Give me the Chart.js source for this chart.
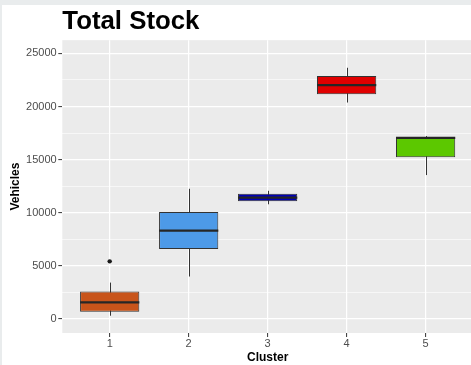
<!DOCTYPE html>
<html lang="en">
<head>
    <meta charset="UTF-8">
    <title>Total Stock</title>
    <script src="https://cdn.jsdelivr.net/npm/chart.js"></script>
    <style>
        body {
            margin: 0;
            overflow: hidden;
            background-color: #e9eced;
        }

        #boxChart {
            position: absolute;
            left: 2px;
            top: 5px;
            background-color: #ffffff;
        }
    </style>
</head>
<body>

    <canvas id="boxChart" width="475" height="360"></canvas>

    <script>
        // Box plot stats per cluster
        var clusters = [1, 2, 3, 4, 5];
        var lowWhisker = [310, 4000, 10800, 20380, 13550];
        var q1 = [690, 6580, 11080, 21150, 15230];
        var median = [1560, 8330, 11420, 22020, 17050];
        var q3 = [2590, 10080, 11790, 22870, 17100];
        var highWhisker = [3430, 12260, 12070, 23650, 17220];
        var outliers = [{ x: 1, y: 5430 }];
        var boxColors = ['#c8541a', '#4d9ae8', '#0000b4', '#e00000', '#5cc800'];

        var yTicks = [0, 5000, 10000, 15000, 20000, 25000];
        var yMinorTicks = [2500, 7500, 12500, 17500, 22500];

        var boxes = clusters.map(function (c, i) {
            return { x: c, y: [q1[i], q3[i]] };
        });

        // grey panel, whiskers and medians drawn through the chart scales
        var boxPlotPlugin = {
            id: 'boxPlot',
            beforeDraw: function (chart) {
                var a = chart.chartArea;
                var ctx = chart.ctx;
                ctx.save();
                ctx.fillStyle = '#ebebeb';
                ctx.fillRect(a.left, a.top, a.right - a.left, a.bottom - a.top);
                ctx.restore();
            },
            beforeDatasetsDraw: function (chart) {
                var ctx = chart.ctx;
                var xs = chart.scales.x, ys = chart.scales.y;
                ctx.save();
                ctx.strokeStyle = '#333333';
                ctx.lineWidth = 1;
                clusters.forEach(function (c, i) {
                    var px = Math.round(xs.getPixelForValue(c)) + 0.5;
                    ctx.beginPath();
                    ctx.moveTo(px, ys.getPixelForValue(lowWhisker[i]));
                    ctx.lineTo(px, ys.getPixelForValue(highWhisker[i]));
                    ctx.stroke();
                });
                ctx.restore();
            },
            afterDatasetsDraw: function (chart) {
                var ctx = chart.ctx;
                var ys = chart.scales.y;
                var bars = chart.getDatasetMeta(0).data;
                ctx.save();
                ctx.strokeStyle = '#262626';
                ctx.lineWidth = 2.2;
                bars.forEach(function (bar, i) {
                    var half = bar.width / 2;
                    var py = ys.getPixelForValue(median[i]);
                    ctx.beginPath();
                    ctx.moveTo(bar.x - half, py);
                    ctx.lineTo(bar.x + half, py);
                    ctx.stroke();
                });
                ctx.restore();
            }
        };

        var isMajor = function (v) { return v % 5000 === 0; };

        var ctx = document.getElementById('boxChart').getContext('2d');
        var boxChart = new Chart(ctx, {
            type: 'bar',
            data: {
                datasets: [{
                    label: 'Vehicles',
                    data: boxes,
                    backgroundColor: boxColors,
                    borderColor: '#333333',
                    borderWidth: 1,
                    borderSkipped: false,
                    categoryPercentage: 1,
                    barPercentage: 0.75
                }, {
                    type: 'scatter',
                    label: 'Outliers',
                    data: outliers,
                    pointRadius: 2.2,
                    pointBackgroundColor: '#1a1a1a',
                    pointBorderWidth: 0
                }]
            },
            options: {
                responsive: false,
                animation: false,
                layout: { padding: 0 },
                plugins: {
                    legend: { display: false },
                    tooltip: { enabled: false },
                    title: {
                        display: true,
                        text: 'Total Stock',
                        align: 'start',
                        fullSize: false,
                        color: '#000000',
                        font: { family: 'Liberation Sans, Arial, sans-serif', size: 25.8, weight: 'bold' },
                        padding: { top: 1.5, bottom: 2.7 }
                    }
                },
                scales: {
                    x: {
                        type: 'linear',
                        min: 0.4,
                        max: 5.6,
                        offset: false,
                        afterBuildTicks: function (axis) {
                            axis.ticks = clusters.map(function (c) { return { value: c }; });
                        },
                        afterFit: function (axis) {
                            axis.height = 32;
                        },
                        border: { display: false },
                        grid: {
                            offset: false,
                            color: '#ffffff',
                            lineWidth: 1.2,
                            tickColor: '#333333',
                            tickWidth: 1,
                            tickLength: 4
                        },
                        ticks: {
                            color: '#4d4d4d',
                            padding: 0,
                            maxRotation: 0,
                            font: { family: 'Liberation Sans, Arial, sans-serif', size: 11 }
                        },
                        title: {
                            display: true,
                            text: 'Cluster',
                            color: '#000000',
                            padding: { top: 0, bottom: 0.5 },
                            font: { family: 'Liberation Sans, Arial, sans-serif', size: 12, weight: 'bold' }
                        }
                    },
                    y: {
                        min: -1316,
                        max: 26250,
                        afterBuildTicks: function (axis) {
                            axis.ticks = yTicks.concat(yMinorTicks)
                                .sort(function (a, b) { return a - b; })
                                .map(function (v) { return { value: v }; });
                        },
                        afterFit: function (axis) {
                            axis.width = 60.3;
                        },
                        border: { display: false },
                        grid: {
                            color: '#ffffff',
                            lineWidth: function (c) { return isMajor(c.tick.value) ? 1.2 : 0.6; },
                            tickColor: function (c) { return isMajor(c.tick.value) ? '#333333' : 'rgba(0,0,0,0)'; },
                            tickWidth: 1,
                            tickLength: 4
                        },
                        ticks: {
                            color: '#4d4d4d',
                            padding: 1.6,
                            font: { family: 'Liberation Sans, Arial, sans-serif', size: 11 },
                            callback: function (v) { return isMajor(v) ? String(v) : ''; }
                        },
                        title: {
                            display: true,
                            text: 'Vehicles',
                            color: '#000000',
                            padding: { top: 6, bottom: 0 },
                            font: { family: 'Liberation Sans, Arial, sans-serif', size: 12, weight: 'bold' }
                        }
                    }
                }
            },
            plugins: [boxPlotPlugin]
        });
    </script>

</body>
</html>
